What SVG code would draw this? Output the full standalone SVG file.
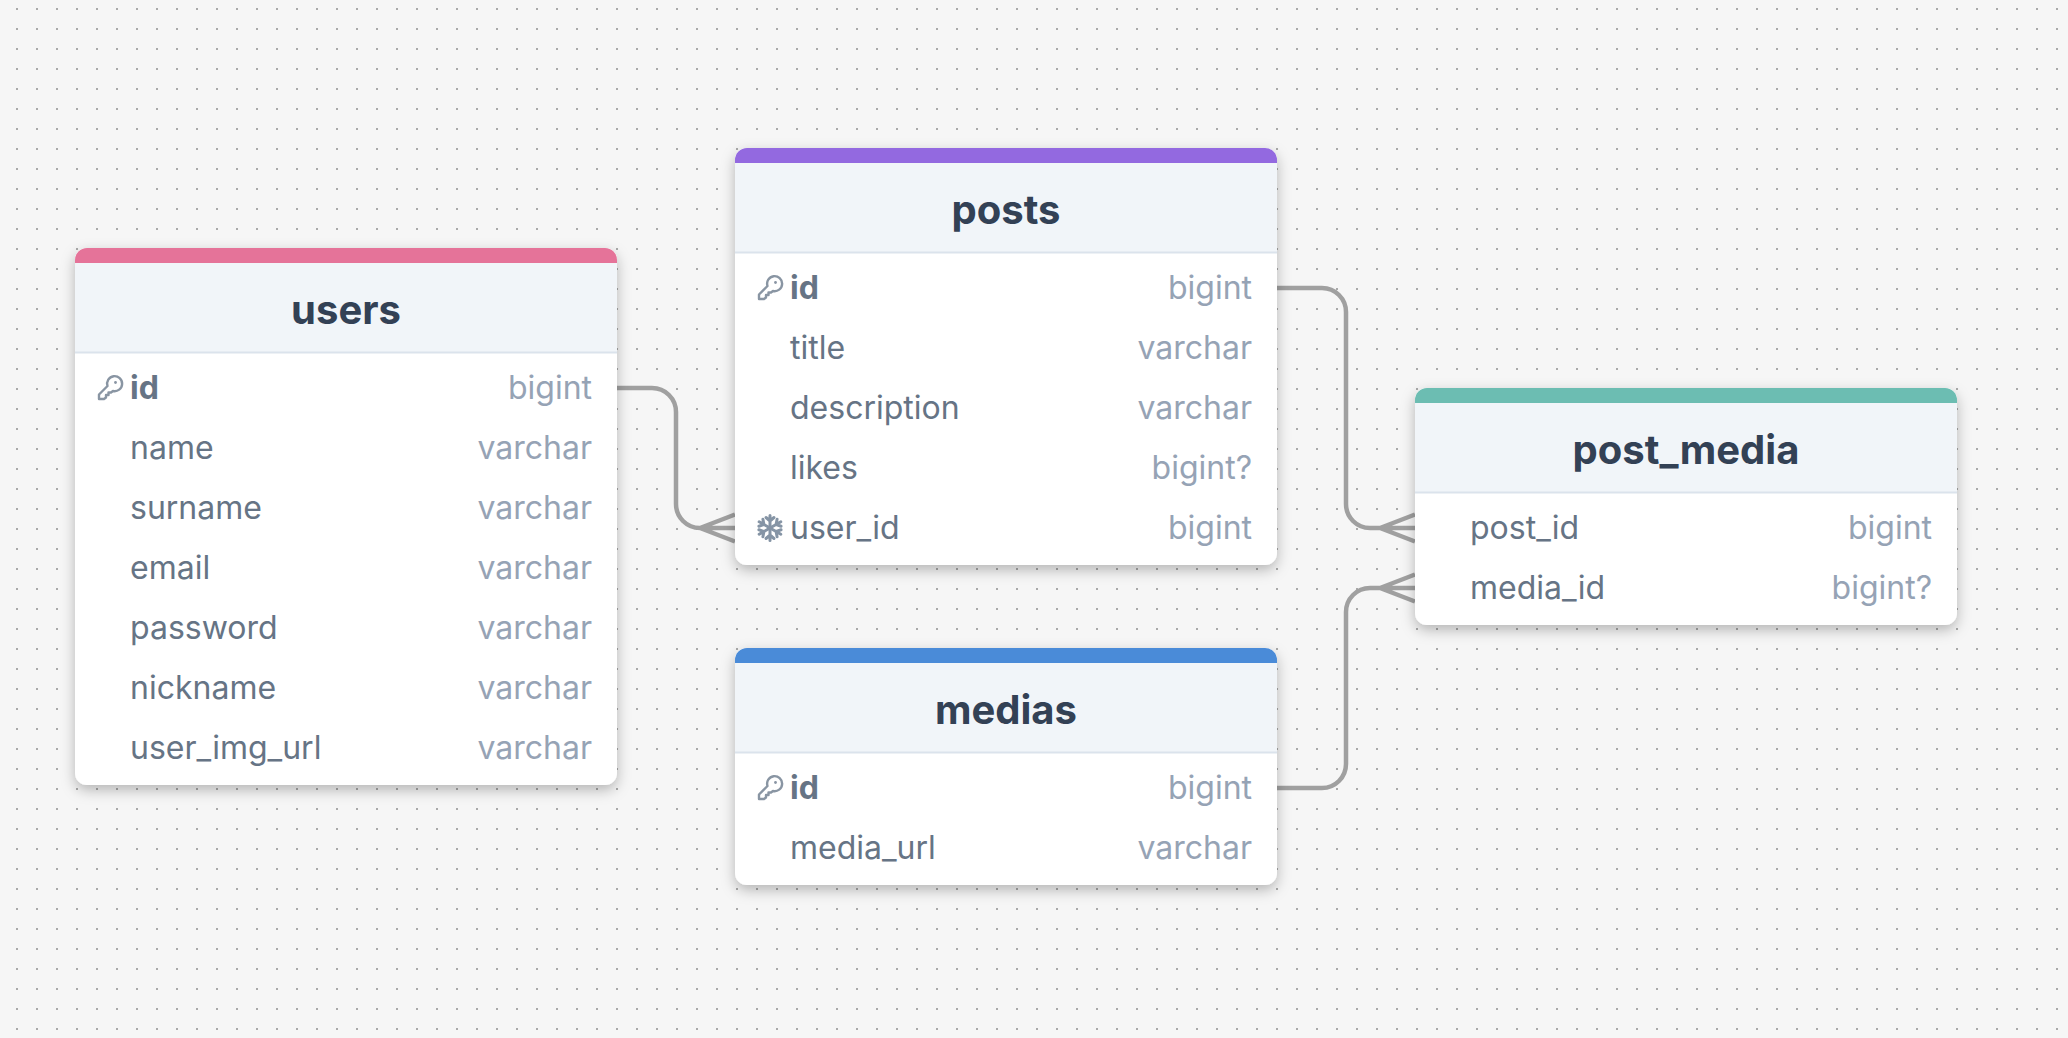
<svg xmlns="http://www.w3.org/2000/svg" width="2068" height="1038" viewBox="0 0 2068 1038">
<defs>
<pattern id="dots" x="16" y="8" width="20" height="20" patternUnits="userSpaceOnUse"><rect width="2" height="2" fill="#a9a9a9"/></pattern>
<filter id="sh" x="-10%" y="-10%" width="120%" height="125%"><feDropShadow dx="0" dy="5" stdDeviation="7" flood-color="#000" flood-opacity="0.27"/></filter>
<g id="key"><path d="M-11 11 L-11 6.500 L-2.500 -2 A7.500 7.500 0 1 1 3 3 L1 4.500 L-1.500 4.500 L-1.500 7 L-4 7 L-4 9.500 L-6 11 Z" fill="none" stroke="#8995a3" stroke-width="2.400" stroke-linejoin="round"/><circle cx="5.500" cy="-5.500" r="1.400" fill="#8995a3"/></g>
<g id="fk" stroke="#8594a5" stroke-width="3" fill="none" stroke-linecap="round"><path id="arm" d="M0 0V-12.500M-4 -10.500L0 -7L4 -10.500"/><use href="#arm" transform="rotate(60)"/><use href="#arm" transform="rotate(120)"/><use href="#arm" transform="rotate(180)"/><use href="#arm" transform="rotate(240)"/><use href="#arm" transform="rotate(300)"/></g>
</defs>
<style>
text{font-family:Inter,"Liberation Sans",sans-serif}
.card{fill:#fff}
.head{fill:#f1f5f9}
.rule{stroke:#dbe3ec;stroke-width:2}
.title{font-size:40px;font-weight:700;fill:#334155;text-anchor:middle}
.n{font-size:32px;fill:#667485}
.pk{font-weight:700}
.t{font-size:32px;fill:#96a3b5;text-anchor:end}
.c{fill:none;stroke:#a0a0a0;stroke-width:4.500}
</style>
<rect width="2068" height="1038" fill="#f6f6f6"/>
<rect width="2068" height="1038" fill="url(#dots)"/>
<g id="connectors">
<path class="c" d="M617 388H652A24 24 0 0 1 676 412V504A24 24 0 0 0 700 528H735M700 528L735 514.500M700 528L735 541.500"/>
<path class="c" d="M1277 288H1322A24 24 0 0 1 1346 312V504A24 24 0 0 0 1370 528H1415M1380 528L1415 514.500M1380 528L1415 541.500"/>
<path class="c" d="M1277 788H1322A24 24 0 0 0 1346 764V612A24 24 0 0 1 1370 588H1415M1380 588L1415 574.500M1380 588L1415 601.500"/>
</g>
<g id="users">
<rect class="card" x="75" y="248" width="542" height="537" rx="12" filter="url(#sh)"/>
<path class="head" d="M75 262H617V352H75Z"/><path d="M75 263V260A12 12 0 0 1 87 248H605A12 12 0 0 1 617 260V263Z" fill="#e57399"/><path class="rule" d="M75 352.500H617"/>
<text class="title" x="346" y="324">users</text>
<use href="#key" x="110" y="388"/><text class="n pk" x="130" y="399">id</text><text class="t" x="592" y="399">bigint</text>
<text class="n" x="130" y="459">name</text><text class="t" x="592" y="459">varchar</text>
<text class="n" x="130" y="519">surname</text><text class="t" x="592" y="519">varchar</text>
<text class="n" x="130" y="579">email</text><text class="t" x="592" y="579">varchar</text>
<text class="n" x="130" y="639">password</text><text class="t" x="592" y="639">varchar</text>
<text class="n" x="130" y="699">nickname</text><text class="t" x="592" y="699">varchar</text>
<text class="n" x="130" y="759">user_img_url</text><text class="t" x="592" y="759">varchar</text>
</g>
<g id="posts">
<rect class="card" x="735" y="148" width="542" height="417" rx="12" filter="url(#sh)"/>
<path class="head" d="M735 162H1277V252H735Z"/><path d="M735 163V160A12 12 0 0 1 747 148H1265A12 12 0 0 1 1277 160V163Z" fill="#9369e0"/><path class="rule" d="M735 252.500H1277"/>
<text class="title" x="1006" y="224">posts</text>
<use href="#key" x="770" y="288"/><text class="n pk" x="790" y="299">id</text><text class="t" x="1252" y="299">bigint</text>
<text class="n" x="790" y="359">title</text><text class="t" x="1252" y="359">varchar</text>
<text class="n" x="790" y="419">description</text><text class="t" x="1252" y="419">varchar</text>
<text class="n" x="790" y="479">likes</text><text class="t" x="1252" y="479">bigint?</text>
<use href="#fk" x="770" y="528"/><text class="n" x="790" y="539">user_id</text><text class="t" x="1252" y="539">bigint</text>
</g>
<g id="medias">
<rect class="card" x="735" y="648" width="542" height="237" rx="12" filter="url(#sh)"/>
<path class="head" d="M735 662H1277V752H735Z"/><path d="M735 663V660A12 12 0 0 1 747 648H1265A12 12 0 0 1 1277 660V663Z" fill="#4a8bd8"/><path class="rule" d="M735 752.500H1277"/>
<text class="title" x="1006" y="724">medias</text>
<use href="#key" x="770" y="788"/><text class="n pk" x="790" y="799">id</text><text class="t" x="1252" y="799">bigint</text>
<text class="n" x="790" y="859">media_url</text><text class="t" x="1252" y="859">varchar</text>
</g>
<g id="post_media">
<rect class="card" x="1415" y="388" width="542" height="237" rx="12" filter="url(#sh)"/>
<path class="head" d="M1415 402H1957V492H1415Z"/><path d="M1415 403V400A12 12 0 0 1 1427 388H1945A12 12 0 0 1 1957 400V403Z" fill="#6cbdb2"/><path class="rule" d="M1415 492.500H1957"/>
<text class="title" x="1686" y="464">post_media</text>
<text class="n" x="1470" y="539">post_id</text><text class="t" x="1932" y="539">bigint</text>
<text class="n" x="1470" y="599">media_id</text><text class="t" x="1932" y="599">bigint?</text>
</g>
</svg>
